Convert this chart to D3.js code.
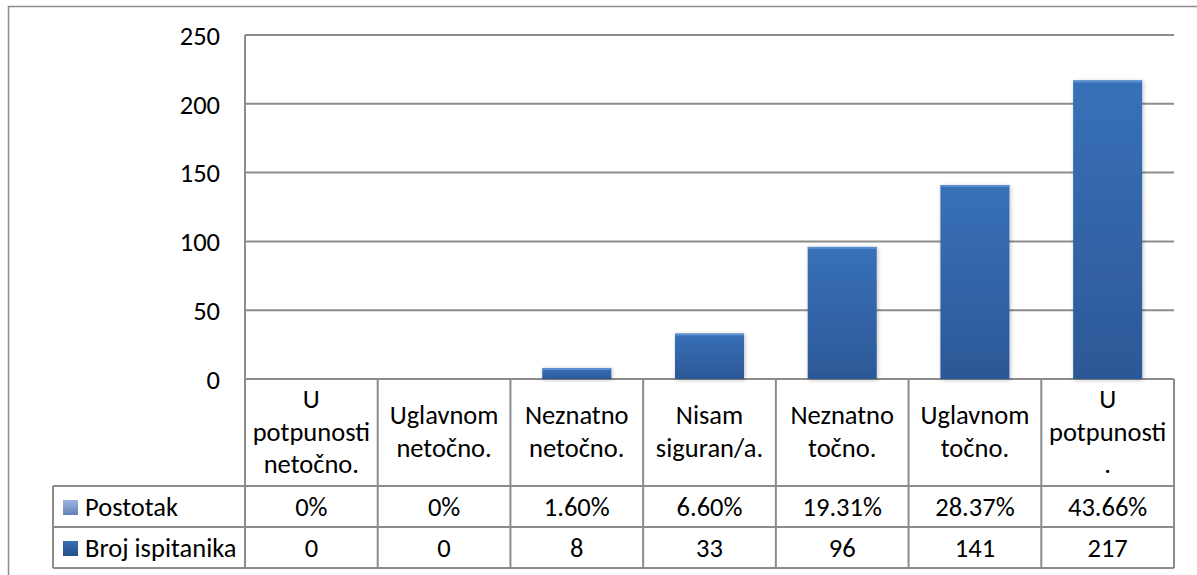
<!DOCTYPE html>
<html>
<head>
<meta charset="utf-8">
<script src="https://cdn.jsdelivr.net/npm/d3@7"></script>
<style>
  body { margin: 0; background: #fff; }
  svg { display: block; font-family: Carlito, Calibri, "Open Sans", sans-serif; }
</style>
</head>
<body>
<svg id="chart" width="1197" height="575"></svg>
<script>
const categories = [
    ["U", "potpunosti", "netočno."],
    ["Uglavnom", "netočno."],
    ["Neznatno", "netočno."],
    ["Nisam", "siguran/a."],
    ["Neznatno", "točno."],
    ["Uglavnom", "točno."],
    ["U", "potpunosti", "."]
];
const counts = [0, 0, 8, 33, 96, 141, 217];
const percents = ["0%", "0%", "1.60%", "6.60%", "19.31%", "28.37%", "43.66%"];
const yTicks = [0, 50, 100, 150, 200, 250];
const seriesNames = ["Postotak", "Broj ispitanika"];

const svg = d3.select("#chart");
const plotLeft = 245, plotRight = 1174, plotTop = 35, zeroY = 379;
const labelRowBottom = 486, rowH = 41;
const fontSize = 26.5;

// gradients
const defs = svg.append("defs");
const barGrad = defs.append("linearGradient").attr("id", "barGrad")
    .attr("x1", 0).attr("y1", 0).attr("x2", 0).attr("y2", 1);
barGrad.append("stop").attr("offset", "0%").attr("stop-color", "#3871b9");
barGrad.append("stop").attr("offset", "100%").attr("stop-color", "#2c5896");
const lightGrad = defs.append("linearGradient").attr("id", "lightGrad")
    .attr("x1", 0).attr("y1", 0).attr("x2", 0).attr("y2", 1);
lightGrad.append("stop").attr("offset", "0%").attr("stop-color", "#9bb3df");
lightGrad.append("stop").attr("offset", "100%").attr("stop-color", "#6482b8");
const darkGrad = defs.append("linearGradient").attr("id", "darkGrad")
    .attr("x1", 0).attr("y1", 0).attr("x2", 0).attr("y2", 1);
darkGrad.append("stop").attr("offset", "0%").attr("stop-color", "#3a6db5");
darkGrad.append("stop").attr("offset", "100%").attr("stop-color", "#24508c");
const shadow = defs.append("filter").attr("id", "shadow")
    .attr("x", "-20%").attr("y", "-20%").attr("width", "140%").attr("height", "140%");
shadow.append("feDropShadow").attr("dx", 1).attr("dy", 1).attr("stdDeviation", 2)
    .attr("flood-color", "#000").attr("flood-opacity", 0.25);

// outer border
svg.append("rect")
    .attr("x", 8.5).attr("y", 6.5).attr("width", 1200).attr("height", 590)
    .attr("fill", "none").attr("stroke", "#8c8c8c").attr("stroke-width", 1.5);

const x = d3.scaleBand()
    .domain(d3.range(categories.length))
    .range([plotLeft, plotRight])
    .paddingInner(0.48).paddingOuter(0.24);

const y = d3.scaleLinear().domain([0, 250]).range([zeroY, plotTop]);

// gridlines + y labels
const yAxis = d3.axisLeft(y).tickValues(yTicks).tickSize(0).tickPadding(0);
const gy = svg.append("g").attr("transform", `translate(${plotLeft},0)`).call(yAxis);
gy.select(".domain").remove();
gy.selectAll("text")
    .attr("x", -25).attr("dy", "0.35em")
    .attr("font-size", fontSize).attr("font-family", "Carlito, Calibri, 'Open Sans', sans-serif")
    .attr("fill", "#000");
svg.append("g").selectAll("line").data(yTicks).join("line")
    .attr("x1", plotLeft).attr("x2", plotRight)
    .attr("y1", d => y(d)).attr("y2", d => y(d))
    .attr("stroke", "#8c8c8c").attr("stroke-width", 2);

// bars
svg.append("g").selectAll("rect").data(counts).join("rect")
    .attr("x", (d, i) => x(i))
    .attr("y", d => y(d))
    .attr("width", x.bandwidth())
    .attr("height", d => y(0) - y(d))
    .attr("fill", "url(#barGrad)")
    .attr("filter", "url(#shadow)")
    .attr("display", d => d > 0 ? null : "none");
svg.append("g").selectAll("rect").data(counts).join("rect")
    .attr("x", (d, i) => x(i))
    .attr("y", d => y(d))
    .attr("width", x.bandwidth())
    .attr("height", 2)
    .attr("fill", "#5b8fd0")
    .attr("display", d => d > 0 ? null : "none");

// table grid
const gridColor = "#8c8c8c";
const tableBottom = labelRowBottom + rowH * 2;
const bounds = d3.range(categories.length + 1).map(i => plotLeft + (plotRight - plotLeft) * i / categories.length);
const tbl = svg.append("g").attr("stroke", gridColor).attr("stroke-width", 2);
tbl.selectAll("line.v").data(bounds).join("line")
    .attr("class", "v")
    .attr("x1", d => d).attr("x2", d => d)
    .attr("y1", (d, i) => i === 0 ? plotTop : zeroY).attr("y2", tableBottom);
tbl.append("line").attr("x1", 53).attr("x2", 53).attr("y1", labelRowBottom).attr("y2", tableBottom);
[labelRowBottom, labelRowBottom + rowH, tableBottom].forEach(yy => {
    tbl.append("line").attr("x1", 53).attr("x2", plotRight).attr("y1", yy).attr("y2", yy);
});

// category labels
const lineH = 32.5;
const catG = svg.append("g").attr("font-size", fontSize).attr("text-anchor", "middle").attr("fill", "#000");
categories.forEach((lines, i) => {
    const cx = (bounds[i] + bounds[i + 1]) / 2;
    const firstBase = 440.5 - (lines.length - 1) * lineH / 2;
    lines.forEach((t, j) => {
        catG.append("text")
            .attr("x", cx)
            .attr("y", firstBase + j * lineH)
            .text(t);
    });
});

// data rows
const rows = [percents, counts];
const keyFills = ["url(#lightGrad)", "url(#darkGrad)"];
rows.forEach((vals, r) => {
    const base = labelRowBottom + rowH * r + 29.5;
    svg.append("rect")
        .attr("x", 63).attr("y", base - 15.5).attr("width", 15).attr("height", 15)
        .attr("fill", keyFills[r]);
    svg.append("text")
        .attr("x", 85).attr("y", base)
        .attr("font-size", fontSize).attr("fill", "#000")
        .text(seriesNames[r]);
    svg.append("g").selectAll("text").data(vals).join("text")
        .attr("x", (d, i) => (bounds[i] + bounds[i + 1]) / 2)
        .attr("y", base)
        .attr("text-anchor", "middle")
        .attr("font-size", fontSize).attr("fill", "#000")
        .text(d => d);
});
</script>
</body>
</html>
